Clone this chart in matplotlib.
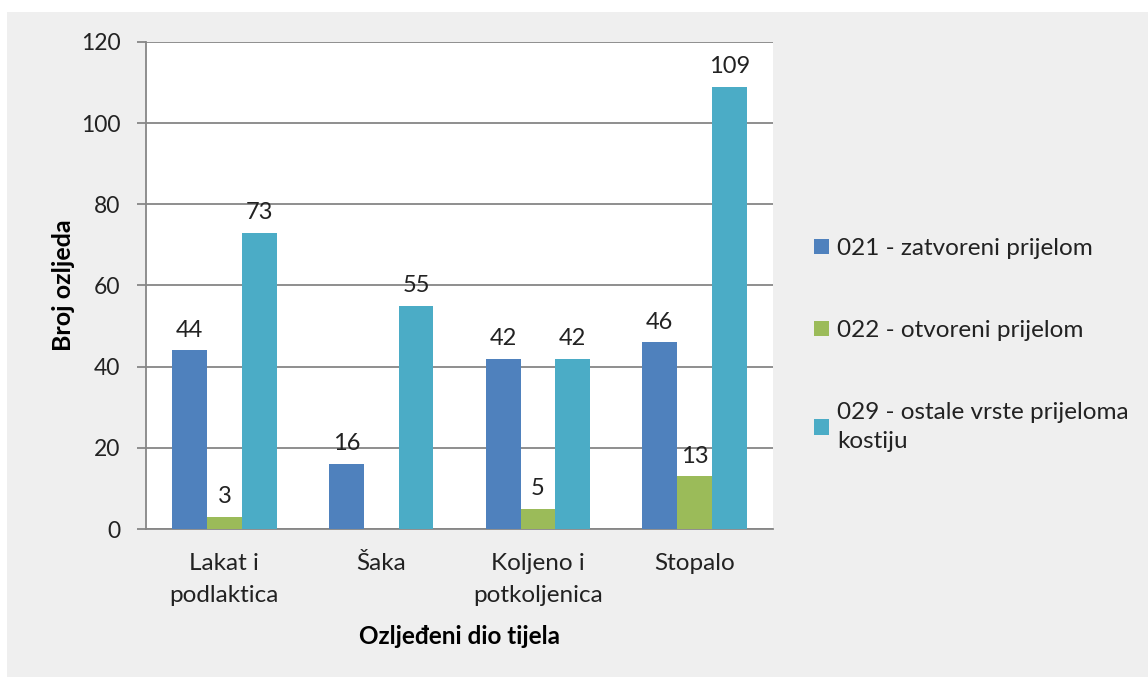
import matplotlib
matplotlib.use("Agg")
import matplotlib.pyplot as plt
import numpy as np
from matplotlib.patches import Rectangle

# podaci
categories = ["Lakat i\npodlaktica", "Šaka", "Koljeno i\npotkoljenica", "Stopalo"]
series_names = ["021 - zatvoreni prijelom", "022 - otvoreni prijelom",
                "029 - ostale vrste prijeloma\nkostiju"]
zatvoreni = [44, 16, 42, 46]
otvoreni = [3, 0, 5, 13]
ostale = [73, 55, 42, 109]
colors = ["#4F81BD", "#9BBB59", "#4BACC6"]

plt.rcParams['font.family'] = ['Lato', 'DejaVu Sans']

fig = plt.figure(figsize=(11.48, 6.77), dpi=100)
fig.patch.set_facecolor("white")
fig.patches.append(Rectangle((7 / 1148, 0), 1, (677 - 12) / 677,
                             transform=fig.transFigure, facecolor="#efefef",
                             edgecolor="none", zorder=-10))

ax = fig.add_axes([0.1272, 0.2186, 0.5462, 0.7194])
ax.set_facecolor("white")

x = np.arange(len(categories))
w = 1 / 4.5
for i, (vals, name) in enumerate(zip([zatvoreni, otvoreni, ostale], series_names)):
    bars = ax.bar(x + (i - 1) * w, vals, w, color=colors[i], label=name, zorder=3)
    labels = [str(v) if v > 0 else "" for v in vals]
    ax.bar_label(bars, labels=labels, padding=7, fontsize=17, color="#222222")

ax.set_xlim(-0.5, len(categories) - 0.5)
ax.set_ylim(0, 120)
ax.set_yticks(range(0, 121, 20))
ax.set_xticks(x)
ax.set_xticklabels(categories, fontsize=17.5, color="#222222", linespacing=1.65)
ax.tick_params(axis='y', labelsize=16.5, labelcolor="#222222", length=6.5,
               width=1.3, color="#868686", pad=12)
ax.tick_params(axis='x', length=0, pad=17)
ax.grid(True, axis='y', color="#868686", linewidth=1.3, zorder=0)

for s in ["top", "right"]:
    ax.spines[s].set_visible(False)
for s in ["left", "bottom"]:
    ax.spines[s].set_color("#868686")
    ax.spines[s].set_linewidth(1.3)

ax.set_ylabel("Broj ozljeda", fontsize=18, fontweight="bold", labelpad=4)
ax.set_xlabel("Ozljeđeni dio tijela", fontsize=17.5, fontweight="bold", labelpad=14)

leg = fig.legend(loc="center left", bbox_to_anchor=(0.690, 0.49), frameon=False,
                 fontsize=17.5, labelspacing=2.5, handlelength=0.6,
                 handleheight=0.6, handletextpad=0.35)
for t in leg.get_texts():
    t.set_color("#222222")
    t.set_linespacing(1.5)

fig.savefig("out.png", dpi=100)
